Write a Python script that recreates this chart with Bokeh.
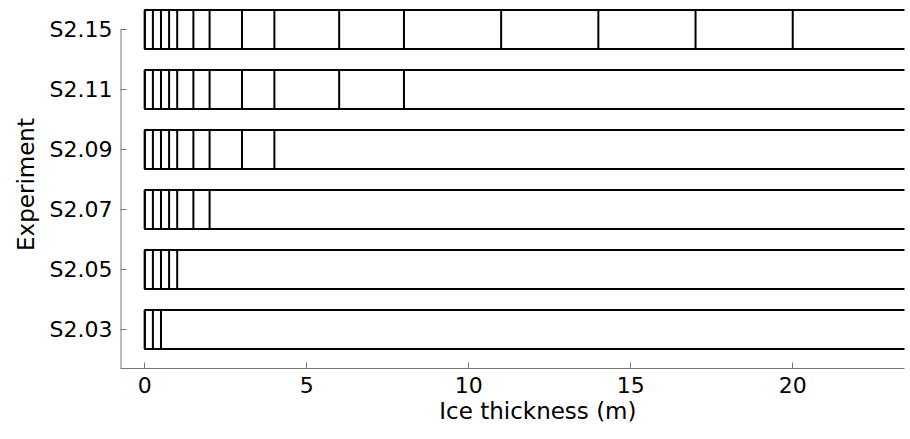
from bokeh.plotting import figure
from bokeh.models import FixedTicker, Range1d, Title
from bokeh.embed import file_html
from bokeh.resources import INLINE

# ---- data ----
experiments = ["S2.03", "S2.05", "S2.07", "S2.09", "S2.11", "S2.15"]
layer_bounds = {
    "S2.03": [0, 0.25, 0.5],
    "S2.05": [0, 0.25, 0.5, 0.75, 1],
    "S2.07": [0, 0.25, 0.5, 0.75, 1, 1.5, 2],
    "S2.09": [0, 0.25, 0.5, 0.75, 1, 1.5, 2, 3, 4],
    "S2.11": [0, 0.25, 0.5, 0.75, 1, 1.5, 2, 3, 4, 6, 8],
    "S2.15": [0, 0.25, 0.5, 0.75, 1, 1.5, 2, 3, 4, 6, 8, 11, 14, 17, 20],
}
column_max = [30, 30, 30, 30, 30, 30]   # open-ended thickest category
x_ticks = [0, 5, 10, 15, 20]
x_title = "Ice thickness (m)"
y_title = "Experiment"

y_pos = list(range(1, len(experiments) + 1))
half = 0.325
X0, X1 = -0.75, 23.45
Y0, Y1 = 0.35, 6.483

p = figure(width=906, height=431, output_backend="svg", toolbar_location=None,
           x_range=Range1d(X0, X1), y_range=Range1d(Y0, Y1),
           min_border_left=120, min_border_right=2, min_border_top=0,
           min_border_bottom=63)
p.outline_line_color = None
p.xgrid.visible = False
p.ygrid.visible = False
p.background_fill_color = "white"

# boxes
p.quad(left=[0] * len(experiments), right=column_max,
       bottom=[y - half for y in y_pos], top=[y + half for y in y_pos],
       fill_color=None, line_color="black", line_width=2)

# dividers
xs0, ys0, ys1 = [], [], []
for y, name in zip(y_pos, experiments):
    for b in layer_bounds[name]:
        xs0.append(b)
        ys0.append(y - half)
        ys1.append(y + half)
p.segment(x0=xs0, y0=ys0, x1=xs0, y1=ys1, line_color="black", line_width=2)

# y axis line only up to top category
p.segment(x0=[X0], y0=[Y0], x1=[X0], y1=[y_pos[-1]],
          line_color="#777777", line_width=2)

font = "DejaVu Sans"
ax = p.xaxis[0]
ax.ticker = FixedTicker(ticks=x_ticks)
ay = p.yaxis[0]
ay.ticker = FixedTicker(ticks=y_pos)
ay.major_label_overrides = {y: n for y, n in zip(y_pos, experiments)}
ay.axis_label = y_title

for a in (ax, ay):
    a.major_tick_in = 6
    a.major_tick_out = 0
    a.minor_tick_in = 0
    a.minor_tick_out = 0
    a.major_tick_line_color = "#777777"
    a.major_label_text_font = font
    a.major_label_text_font_size = "22px"
    a.major_label_text_color = "black"
    a.axis_label_text_font = font
    a.axis_label_text_font_size = "23px"
    a.axis_label_text_font_style = "normal"
    a.axis_label_text_color = "black"
ax.axis_line_color = "#777777"
ay.axis_line_color = None
ax.major_label_standoff = 8
ay.major_label_standoff = 8
ay.axis_label_standoff = 8

# x title, right-aligned so it sits where the original (cropped) axis put it
p.add_layout(Title(text=x_title, align="right", offset=268, text_font=font,
                   text_font_size="23px", text_font_style="normal",
                   text_color="black", standoff=0), "below")

open("out.html", "w").write(file_html(p, INLINE))
